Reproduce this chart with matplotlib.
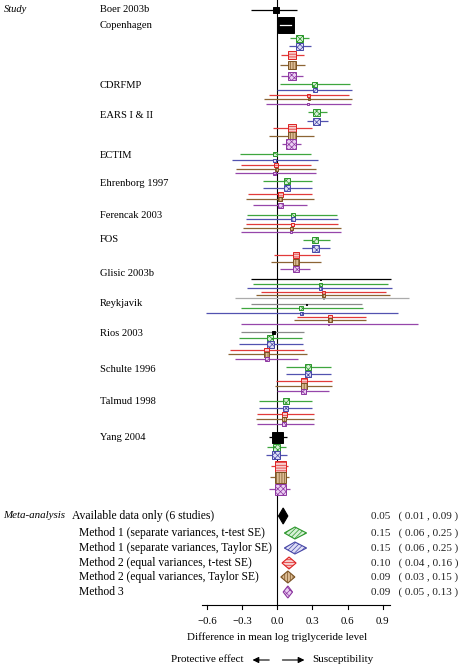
import matplotlib
matplotlib.use('Agg')
import matplotlib.pyplot as plt
from matplotlib.patches import Rectangle, Polygon
from matplotlib.transforms import blended_transform_factory

plt.rcParams['font.family'] = ['Liberation Serif', 'DejaVu Serif']
plt.rcParams['hatch.linewidth'] = 0.5

# ---- datos de los estudios ----
studies = ['Boer 2003b', 'Copenhagen', 'CDRFMP', 'EARS I & II', 'ECTIM',
           'Ehrenborg 1997', 'Ferencak 2003', 'FOS', 'Glisic 2003b',
           'Reykjavik', 'Rios 2003', 'Schulte 1996', 'Talmud 1998', 'Yang 2004']
study_y = [10, 25, 85, 115, 155, 183, 215, 240, 274, 304, 334, 370, 402, 437]

# A = available data, 1t/1s/2t/2s/3 = methods
row_kind = ['A',
            'A', '1t', '1s', '2t', '2s', '3',
            '1t', '1s', '2t', '2s', '3',
            '1t', '1s', '2t', '2s', '3',
            '1t', '1s', '2t', '2s', '3',
            '1t', '1s', '2t', '2s', '3',
            '1t', '1s', '2t', '2s', '3',
            '1t', '1s', '2t', '2s', '3',
            'A', '1t', '1s', '2t', '2s', '3g',
            'Ag', '1t', '1s', '2t', '2s', '3',
            'Ag', '1t', '1s', '2t', '2s', '3',
            '1t', '1s', '2t', '2s', '3',
            '1t', '1s', '2t', '2s', '3',
            'A', '1t', '1s', '2t', '2s', '3']

row_est = [-0.01,
           0.07, 0.185, 0.185, 0.125, 0.125, 0.125,
           0.32, 0.32, 0.27, 0.27, 0.26,
           0.33, 0.33, 0.125, 0.125, 0.12,
           -0.02, -0.02, -0.01, -0.01, -0.02,
           0.085, 0.085, 0.03, 0.025, 0.025,
           0.13, 0.13, 0.13, 0.12, 0.12,
           0.325, 0.325, 0.16, 0.16, 0.16,
           0.365, 0.365, 0.365, 0.39, 0.39, 0.39,
           0.25, 0.205, 0.205, 0.45, 0.45, 0.44,
           -0.035, -0.06, -0.06, -0.09, -0.09, -0.09,
           0.26, 0.26, 0.23, 0.23, 0.22,
           0.07, 0.07, 0.065, 0.06, 0.06,
           0.0, -0.01, -0.01, 0.025, 0.025, 0.025]

row_lo = [-0.22,
          0.02, 0.11, 0.10, 0.03, 0.02, 0.03,
          0.02, 0.0, -0.07, -0.11, -0.10,
          0.26, 0.25, -0.04, -0.07, 0.04,
          -0.32, -0.39, -0.31, -0.35, -0.36,
          -0.12, -0.12, -0.25, -0.27, -0.21,
          -0.26, -0.27, -0.27, -0.29, -0.31,
          0.22, 0.21, -0.03, -0.05, 0.02,
          -0.22, -0.21, -0.26, -0.14, -0.18, -0.36,
          -0.22, -0.31, -0.61, 0.17, 0.14, -0.31,
          -0.31, -0.33, -0.33, -0.40, -0.42, -0.36,
          0.07, 0.07, -0.01, -0.02, 0.0,
          -0.16, -0.16, -0.17, -0.18, -0.17,
          -0.07, -0.09, -0.10, -0.05, -0.06, -0.07]

row_hi = [0.17,
          0.12, 0.27, 0.29, 0.23, 0.24, 0.22,
          0.62, 0.64, 0.61, 0.64, 0.63,
          0.42, 0.43, 0.30, 0.31, 0.20,
          0.29, 0.35, 0.29, 0.33, 0.33,
          0.30, 0.30, 0.30, 0.31, 0.25,
          0.51, 0.52, 0.52, 0.54, 0.54,
          0.45, 0.45, 0.36, 0.37, 0.28,
          0.97, 0.94, 0.98, 0.93, 0.96, 1.12,
          0.72, 0.73, 1.03, 0.76, 0.76, 1.20,
          0.23, 0.21, 0.22, 0.23, 0.25, 0.18,
          0.46, 0.46, 0.47, 0.47, 0.44,
          0.30, 0.30, 0.31, 0.31, 0.31,
          0.08, 0.07, 0.08, 0.09, 0.10, 0.11]

# resultados del meta-análisis
meta_labels = ['Available data only (6 studies)',
               'Method 1 (separate variances, t-test SE)',
               'Method 1 (separate variances, Taylor SE)',
               'Method 2 (equal variances, t-test SE)',
               'Method 2 (equal variances, Taylor SE)',
               'Method 3']
meta_kind = ['A', '1t', '1s', '2t', '2s', '3']
meta_est = [0.05, 0.15, 0.15, 0.10, 0.09, 0.09]
meta_lo = [0.01, 0.06, 0.06, 0.04, 0.03, 0.05]
meta_hi = [0.09, 0.25, 0.25, 0.16, 0.15, 0.13]

x_ticks = [-0.6, -0.3, 0.0, 0.3, 0.6, 0.9]

# ---- maquetación (píxeles) ----
row_y = [10,
         25, 38, 46, 55, 65, 76,
         84, 90, 95, 99, 104,
         112, 121, 128, 136, 144,
         154, 160, 165, 169, 173,
         181, 188, 194, 199, 205,
         215, 219, 224, 228, 232,
         240, 248, 255, 262, 269,
         279, 284, 288, 292, 295, 298,
         304, 308, 313, 317, 320, 324,
         332, 338, 344, 350, 354, 359,
         367, 374, 381, 386, 391,
         401, 408, 414, 419, 424,
         437, 447, 455, 466, 477, 489]
row_box = [6,
           16, 7, 7, 8, 8, 8,
           5, 4, 3, 2, 2,
           7, 7, 8, 8, 10,
           4, 3, 4, 3, 3,
           6, 6, 5, 4, 5,
           4, 4, 3, 3, 2,
           6, 7, 6, 6, 6,
           1, 3, 3, 3, 3, 1,
           1, 4, 3, 4, 4, 1,
           3, 6, 7, 5, 5, 4,
           6, 6, 6, 6, 5,
           6, 5, 5, 4, 4,
           11, 7, 8, 11, 11, 11]
meta_y = [516, 533, 548, 563, 577, 592]
meta_h = [16, 12, 12, 12, 12, 12]

styles = {
    'A':  dict(line='black', edge='black', face='black', hatch=None, dhatch=None),
    'Ag': dict(line='#8a8a8a', edge='black', face='black', hatch=None, dhatch=None),
    '1t': dict(line='#3ea63e', edge='#2a962a', face='#d6f0d6', hatch='xxxxxx', dhatch='///////'),
    '1s': dict(line='#5252b0', edge='#4646a6', face='#dedef6', hatch='xxxxxx', dhatch='///////'),
    '2t': dict(line='#e23a3a', edge='#dd2222', face='#f8cccc', hatch='------', dhatch='------'),
    '2s': dict(line='#8c6434', edge='#7a5222', face='#dcbc94', hatch='||||||', dhatch='||||||'),
    '3':  dict(line='#9646aa', edge='#8c36a0', face='#eacdf2', hatch='xxxxxx', dhatch='xxxxx'),
    '3g': dict(line='#ababab', edge='#9a9a9a', face='#cccccc', hatch=None, dhatch=None),
}

W, H = 461, 667
x0, scale = 277.3, 117.3   # pixel de x=0 y píxeles por unidad

fig = plt.figure(figsize=(W / 100, H / 100), dpi=100)
ax = fig.add_axes([0, 0, 1, 1])
ax.set_xlim(-x0 / scale, (W - x0) / scale)
ax.set_ylim(H, 0)
ax.axis('off')
tx = blended_transform_factory(ax.transAxes, ax.transData)
fs = 7.6
fs_meta = 8.4

# línea vertical en cero
ax.plot([0, 0], [0, 605], color='black', lw=0.8, zorder=1)

# filas de los estudios
for k, e, lo, hi, y, s in zip(row_kind, row_est, row_lo, row_hi, row_y, row_box):
    st = styles[k]
    ax.plot([lo, hi], [y, y], color=st['line'], lw=0.9, zorder=2,
            solid_capstyle='butt')
    w = s / scale
    ax.add_patch(Rectangle((e - w / 2, y - s / 2), w, s, facecolor=st['face'],
                           edgecolor=st['edge'], hatch=st['hatch'], lw=0.7,
                           zorder=3))
    if k == 'A' and lo > e - w / 2 and hi < e + w / 2:
        ax.plot([lo, hi], [y, y], color='white', lw=0.9, zorder=4)

for name, y in zip(studies, study_y):
    ax.text(100 / W, y, name, transform=tx, fontsize=fs, va='center')
ax.text(4 / W, 10, 'Study', transform=tx, fontsize=fs, va='center', style='italic')

# diamantes del meta-análisis
for i, (lab, k, e, lo, hi, y, h) in enumerate(zip(meta_labels, meta_kind, meta_est,
                                                   meta_lo, meta_hi, meta_y, meta_h)):
    st = styles[k]
    ax.add_patch(Polygon([(lo, y), (e, y - h / 2), (hi, y), (e, y + h / 2)],
                         closed=True, facecolor=st['face'], edgecolor=st['edge'],
                         hatch=st['dhatch'], lw=0.8, zorder=3))
    xl = 72 if i == 0 else 79
    ax.text(xl / W, y, lab, transform=tx, fontsize=fs_meta, va='center')
    ax.text(371 / W, y, f'{e:.2f}   ( {lo:.2f} , {hi:.2f} )', transform=tx,
            fontsize=8, va='center', color='#222222')
ax.text(3 / W, meta_y[0], 'Meta-analysis', transform=tx, fontsize=7.9,
        va='center', style='italic')

# eje x
ax.plot([-0.64, 0.96], [605, 605], color='black', lw=0.8)
for t in x_ticks:
    ax.plot([t, t], [605, 609], color='black', lw=0.8)
    ax.text(t, 621, f'{t:.1f}'.replace('-', '\u2212'), ha='center', va='center',
            fontsize=7.8)
ax.text(0, 637, 'Difference in mean log triglyceride level', ha='center',
        va='center', fontsize=7.9)

# flechas
ax.annotate('', xy=(-0.235, 660), xytext=(-0.045, 660),
            arrowprops=dict(arrowstyle='-|>', color='black', lw=0.8, mutation_scale=9))
ax.annotate('', xy=(0.255, 660), xytext=(0.02, 660),
            arrowprops=dict(arrowstyle='-|>', color='black', lw=0.8, mutation_scale=9))
ax.text(-0.29, 660, 'Protective effect', ha='right', va='center', fontsize=8)
ax.text(0.295, 660, 'Susceptibility', ha='left', va='center', fontsize=8)

plt.savefig('out.png', dpi=100)
